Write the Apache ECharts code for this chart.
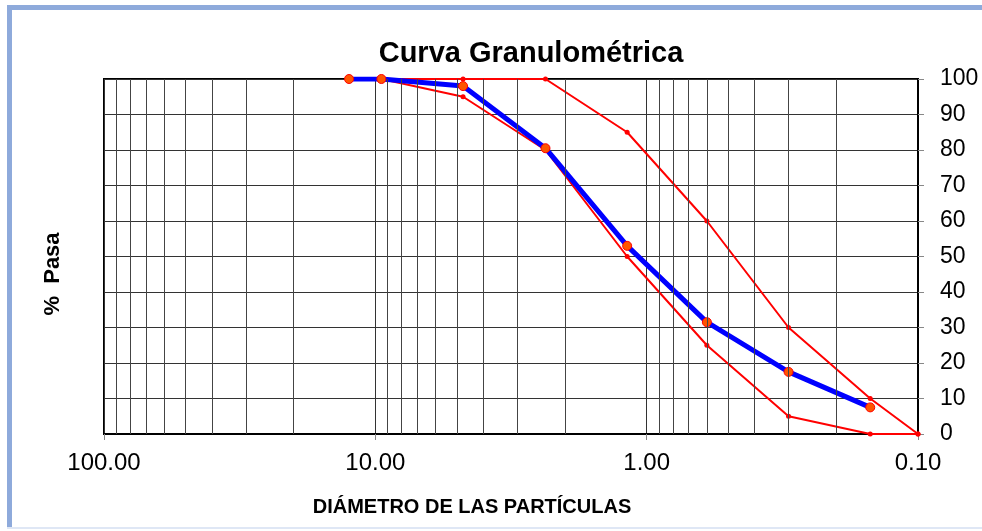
<!DOCTYPE html>
<html>
<head>
<meta charset="utf-8">
<script src="https://cdn.jsdelivr.net/npm/echarts@6/dist/echarts.min.js"></script>
<style>
  html, body { margin: 0; padding: 0; background: #fff; }
  #main { width: 982px; height: 531px; }
</style>
</head>
<body>
<div id="main"></div>
<script>
// abertura de tamiz (mm) y % que pasa
var ensayo = [[12.5, 100], [9.5, 100], [4.75, 98], [2.36, 80.5], [1.18, 53], [0.6, 31.5], [0.3, 17.5], [0.15, 7.5]];
var limiteInf = [[9.5, 100], [4.75, 95], [2.36, 80], [1.18, 50], [0.6, 25], [0.3, 5], [0.15, 0], [0.1, 0]];
var limiteSup = [[9.5, 100], [4.75, 100], [2.36, 100], [1.18, 85], [0.6, 60], [0.3, 30], [0.15, 10], [0.1, 0]];
// lineas secundarias de la escala log
var menores = [20, 30, 40, 50, 60, 70, 80, 90, 2, 3, 4, 5, 6, 7, 8, 9, 0.2, 0.3, 0.4, 0.5, 0.6, 0.7, 0.8, 0.9];

var fuente = 'Liberation Sans, Arial, sans-serif';
var chart = echarts.init(document.getElementById('main'));

chart.setOption({
  animation: false,
  backgroundColor: '#fff',
  graphic: [
    { type: 'rect', shape: { x: 7, y: 5, width: 980, height: 5 }, style: { fill: '#8eaadb' } },
    { type: 'rect', shape: { x: 7, y: 5, width: 5, height: 523 }, style: { fill: '#8eaadb' } },
    { type: 'rect', shape: { x: 7, y: 527, width: 980, height: 2 }, style: { fill: '#dfe7f5' } },
    {
      type: 'text', x: 53, y: 274, rotation: Math.PI / 2,
      style: {
        text: '%  Pasa', fill: '#000', align: 'center', verticalAlign: 'middle',
        font: 'bold 22px ' + fuente
      }
    }
  ],
  title: {
    text: 'Curva Granulométrica',
    left: 526, top: 34, textAlign: 'center',
    textStyle: { fontFamily: fuente, fontSize: 29, fontWeight: 'bold', color: '#000' }
  },
  grid: {
    left: 104, right: 64, top: 79, bottom: 97, outerBoundsMode: 'none',
    show: true, borderColor: '#000', borderWidth: 2, backgroundColor: 'transparent'
  },
  xAxis: {
    type: 'log', logBase: 10, min: 0.1, max: 100, inverse: true,
    name: 'DIÁMETRO DE LAS PARTÍCULAS', nameLocation: 'middle', nameGap: 63,
    nameTextStyle: { fontFamily: fuente, fontSize: 20, fontWeight: 'bold', color: '#000', padding: [0, 78, 0, 0] },
    axisLine: { lineStyle: { color: '#000', width: 2 } },
    axisTick: { show: true, length: 6, lineStyle: { color: '#888' } },
    axisLabel: {
      margin: 17, fontFamily: fuente, fontSize: 24, color: '#000',
      formatter: function (v) { return Number(v).toFixed(2); }
    },
    splitLine: { show: true, lineStyle: { color: '#333', width: 1 } }
  },
  yAxis: {
    type: 'value', position: 'right', min: 0, max: 100, interval: 10,
    axisLine: { show: true, lineStyle: { color: '#000', width: 2 } },
    axisTick: { show: true, length: 6, lineStyle: { color: '#888' } },
    axisLabel: { margin: 22, fontFamily: fuente, fontSize: 23, color: '#000' },
    splitLine: { show: true, lineStyle: { color: '#333', width: 1 } }
  },
  series: [
    {
      type: 'line', data: [], z: 1, silent: true,
      markLine: {
        silent: true, symbol: ['none', 'none'], animation: false,
        label: { show: false },
        lineStyle: { color: '#444', width: 1, type: 'solid' },
        data: menores.map(function (v) { return { xAxis: v }; })
      }
    },
    {
      type: 'line', data: limiteInf, z: 3,
      symbol: 'circle', symbolSize: 5,
      lineStyle: { color: '#ff0000', width: 2 },
      itemStyle: { color: '#ff0000' }
    },
    {
      type: 'line', data: limiteSup, z: 3,
      symbol: 'circle', symbolSize: 5,
      lineStyle: { color: '#ff0000', width: 2 },
      itemStyle: { color: '#ff0000' }
    },
    {
      type: 'line', data: ensayo, z: 4,
      symbol: 'circle', symbolSize: 9,
      lineStyle: { color: '#0000ff', width: 5 },
      itemStyle: { color: '#ff5500', borderColor: '#ff0000', borderWidth: 1 }
    }
  ]
});
</script>
</body>
</html>
